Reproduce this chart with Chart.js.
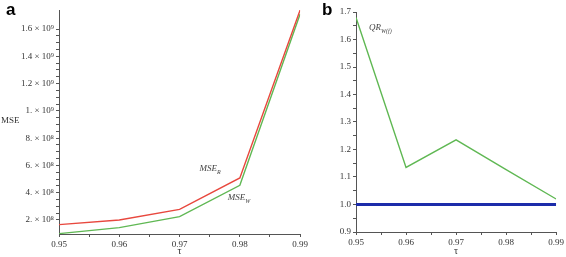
<!DOCTYPE html>
<html>
<head>
<meta charset="utf-8">
<script src="https://cdn.jsdelivr.net/npm/chart.js@4.4.0/dist/chart.umd.min.js"></script>
<style>
  body { margin: 0; background: #fff; }
  #wrap { position: relative; width: 566px; height: 257px; overflow: hidden; }
  canvas { position: absolute; top: 0; }
  .panel { position: absolute; font: bold 17px "Liberation Sans", Arial, sans-serif; color: #000; }
  .ylab { position: absolute; font: 9px "Liberation Serif", serif; color: #333; }
</style>
</head>
<body>
<div id="wrap">
  <canvas id="left" width="310" height="257" style="left:0"></canvas>
  <canvas id="right" width="266" height="257" style="left:300px"></canvas>
  <div class="panel" style="left:6px; top:0px">a</div>
  <div class="panel" style="left:322px; top:0px">b</div>
  <div class="ylab" style="left:1px; top:115px">MSE</div>
</div>
<script>
// data
const tau = [0.95, 0.96, 0.97, 0.98, 0.99];
const mseR = [1.66e8, 2.0e8, 2.78e8, 5.08e8, 1.74e9];
const mseW = [1.0e8, 1.44e8, 2.24e8, 4.54e8, 1.71e9];
const qrW = [1.68, 1.135, 1.235, 1.127, 1.02];
const baseline = [1, 1, 1, 1, 1];

// tick labels
const xTicks = [0.95, 0.96, 0.97, 0.98, 0.99];
const xTickLabels = ['0.95', '0.96', '0.97', '0.98', '0.99'];
const leftYTicks = [2e8, 4e8, 6e8, 8e8, 1e9, 1.2e9, 1.4e9, 1.6e9];
const leftYTickLabels = ['2. × 10⁸', '4. × 10⁸', '6. × 10⁸', '8. × 10⁸', '1. × 10⁹', '1.2 × 10⁹', '1.4 × 10⁹', '1.6 × 10⁹'];
const rightYTicks = [0.9, 1.0, 1.1, 1.2, 1.3, 1.4, 1.5, 1.6, 1.7];
const rightYTickLabels = ['0.9', '1.0', '1.1', '1.2', '1.3', '1.4', '1.5', '1.6', '1.7'];

const red = 'rgb(232,72,62)';
const green = 'rgb(96,184,84)';
const blue = 'rgb(28,44,170)';
const axisColor = '#555';
const tickFont = { family: '"Liberation Serif", serif', size: 9 };

function points(xs, ys) {
  return xs.map((x, i) => ({ x: x, y: ys[i] }));
}

// major ticks from the named arrays, plus one or more minor ticks in between
function withMinor(major, parts) {
  const out = [];
  for (let i = 0; i < major.length; i++) {
    out.push({ value: major[i], major: true });
    if (i < major.length - 1) {
      const step = (major[i + 1] - major[i]) / parts;
      for (let k = 1; k < parts; k++) out.push({ value: major[i] + step * k, major: false });
    }
  }
  return out;
}

function labelFor(values, labels) {
  return function (v) {
    const i = values.findIndex((t) => Math.abs(t - v) < 1e-9 * Math.max(1, Math.abs(t)));
    return i >= 0 ? labels[i] : '';
  };
}

// italic annotations placed in data space
const annotate = {
  id: 'annotate',
  afterDatasetsDraw(chart, args, opts) {
    const ctx = chart.ctx;
    const xs = chart.scales.x, ys = chart.scales.y;
    ctx.save();
    ctx.fillStyle = '#444';
    ctx.textBaseline = 'alphabetic';
    (opts.items || []).forEach((it) => {
      const px = xs.getPixelForValue(it.x);
      const py = ys.getPixelForValue(it.y);
      ctx.font = 'italic 9px "Liberation Serif", serif';
      ctx.fillText(it.main, px, py);
      const w = ctx.measureText(it.main).width;
      ctx.font = 'italic 6px "Liberation Serif", serif';
      ctx.fillText(it.sub, px + w, py + 3);
    });
    ctx.restore();
  }
};

function scaleX(height) {
  return {
    type: 'linear',
    min: 0.95,
    max: 0.99,
    afterBuildTicks: (s) => { s.ticks = withMinor(xTicks, 2); },
    afterFit: (s) => { s.height = height; },
    ticks: { font: tickFont, color: '#333', autoSkip: false, maxRotation: 0, padding: 2,
      callback: labelFor(xTicks, xTickLabels) },
    grid: { drawOnChartArea: false, drawTicks: true, tickLength: 3, color: axisColor },
    border: { display: true, color: axisColor, width: 1 },
    title: { display: true, text: 'τ', font: { family: '"Liberation Serif", serif', size: 10 }, color: '#333', padding: 0 }
  };
}

function scaleY(min, max, width, major, labels, parts) {
  return {
    type: 'linear',
    min: min,
    max: max,
    afterBuildTicks: (s) => { s.ticks = withMinor(major, parts).filter((t) => t.value >= min && t.value <= max); },
    afterFit: (s) => { s.width = width; },
    ticks: { font: tickFont, color: '#333', autoSkip: false, padding: 2,
      callback: labelFor(major, labels) },
    grid: { drawOnChartArea: false, drawTicks: true, tickLength: 3, color: axisColor },
    border: { display: true, color: axisColor, width: 1 }
  };
}

new Chart(document.getElementById('left'), {
  type: 'line',
  data: {
    datasets: [
      { data: points(tau, mseR), borderColor: red, borderWidth: 1.4, pointRadius: 0, tension: 0 },
      { data: points(tau, mseW), borderColor: green, borderWidth: 1.4, pointRadius: 0, tension: 0 }
    ]
  },
  options: {
    responsive: false,
    animation: false,
    layout: { padding: { top: 10, right: 9, left: 0, bottom: 0 } },
    plugins: {
      legend: { display: false },
      tooltip: { enabled: false },
      annotate: { items: [
        { x: 0.9733, y: 5.6e8, main: 'MSE', sub: 'R' },
        { x: 0.978, y: 3.45e8, main: 'MSE', sub: 'W' }
      ] }
    },
    scales: {
      x: scaleX(23),
      y: scaleY(0.97e8, 1.74e9, 59, leftYTicks, leftYTickLabels, 4)
    }
  },
  plugins: [annotate]
});

new Chart(document.getElementById('right'), {
  type: 'line',
  data: {
    datasets: [
      { data: points(tau, baseline), borderColor: blue, borderWidth: 3, pointRadius: 0, tension: 0 },
      { data: points(tau, qrW), borderColor: green, borderWidth: 1.4, pointRadius: 0, tension: 0 }
    ]
  },
  options: {
    responsive: false,
    animation: false,
    layout: { padding: { top: 12, right: 9, left: 0, bottom: 0 } },
    plugins: {
      legend: { display: false },
      tooltip: { enabled: false },
      annotate: { items: [
        { x: 0.9526, y: 1.635, main: 'QR', sub: 'W(f)' }
      ] }
    },
    scales: {
      x: scaleX(25),
      y: scaleY(0.9, 1.7, 56, rightYTicks, rightYTickLabels, 2)
    }
  },
  plugins: [annotate]
});
</script>
</body>
</html>
